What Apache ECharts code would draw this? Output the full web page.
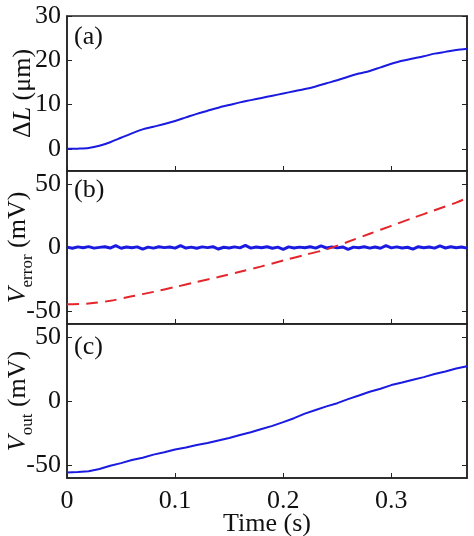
<!DOCTYPE html>
<html>
<head>
<meta charset="utf-8">
<script src="https://cdn.jsdelivr.net/npm/echarts@6/dist/echarts.min.js"></script>
<style>
  html, body { margin: 0; padding: 0; background: #fff; }
  #container { width: 474px; height: 536px; }
</style>
</head>
<body>
<div id="container"></div>
<script>
// panel (a): displacement, um
var timeA = [0, 0.01, 0.02, 0.03, 0.04, 0.05, 0.06, 0.07, 0.08, 0.09, 0.1, 0.11, 0.12, 0.13, 0.14, 0.15, 0.16, 0.17, 0.18, 0.19,
    0.2, 0.21, 0.22, 0.23, 0.24, 0.25, 0.26, 0.27, 0.28, 0.29, 0.3, 0.31, 0.32, 0.33, 0.34, 0.35, 0.36, 0.37];
var deltaL = [0, 0.05, 0.2, 0.7, 1.5, 2.5, 3.5, 4.4, 5.0, 5.6, 6.3, 7.1, 7.9, 8.6, 9.3, 9.9, 10.5, 11.0, 11.5, 12.0,
    12.5, 13.0, 13.5, 14.1, 14.8, 15.5, 16.3, 17.0, 17.6, 18.4, 19.2, 19.9, 20.4, 20.9, 21.5, 21.9, 22.3, 22.6];

// panel (b): error signal (blue, mV) and dashed reference (red, mV)
var timeErr = [0, 0.005, 0.01, 0.015, 0.02, 0.025, 0.03, 0.035, 0.04, 0.045, 0.05, 0.055, 0.06, 0.065, 0.07, 0.075,
    0.08, 0.085, 0.09, 0.095, 0.1, 0.105, 0.11, 0.115, 0.12, 0.125, 0.13, 0.135, 0.14, 0.145, 0.15, 0.155,
    0.16, 0.165, 0.17, 0.175, 0.18, 0.185, 0.19, 0.195, 0.2, 0.205, 0.21, 0.215, 0.22, 0.225, 0.23, 0.235,
    0.24, 0.245, 0.25, 0.255, 0.26, 0.265, 0.27, 0.275, 0.28, 0.285, 0.29, 0.295, 0.3, 0.305, 0.31, 0.315,
    0.32, 0.325, 0.33, 0.335, 0.34, 0.345, 0.35, 0.355, 0.36, 0.365, 0.37];
var vError = [0.3, -0.6, 0.5, -0.2, 0.7, -0.5, 0.1, 0.6, -0.4, 1.4,
    -0.6, 0.4, -0.2, 0.5, -1.3, 0.3, -0.5, 0.6, -0.1, 0.4,
    -0.5, 1.5, -0.4, 0.3, -0.6, 0.5, -0.1, 0.6, -1.2, 0.2,
    -0.4, 0.5, -0.3, 1.6, -0.5, 0.4, -0.2, 0.6, -0.6, 0.3,
    -1.4, 0.5, -0.4, 0.3, -0.2, 0.6, -0.5, 1.3, -0.4, 0.5,
    -0.3, 0.4, -1.5, 0.3, -0.2, 0.6, -0.5, 0.4, -0.6, 1.4,
    -0.3, 0.5, -0.4, 0.2, -1.3, 0.6, -0.2, 0.4, -0.5, 1.2,
    -0.4, 0.6, -0.2, 0.4, -0.5];
var timeRef = [0, 0.02, 0.04, 0.06, 0.08, 0.1, 0.12, 0.14, 0.16, 0.18, 0.2, 0.22, 0.24, 0.26, 0.28, 0.3, 0.32, 0.34, 0.36, 0.37];
var vRef = [-44.5, -44.0, -41.8, -38.3, -34.8, -31.0, -27.0, -23.2, -19.0, -14.8, -10.2, -5.8, -1.5, 4.5, 10.8, 17.0, 23.2, 29.2, 35.2, 38.8];

// panel (c): output voltage, mV
var timeOut = [0, 0.01, 0.02, 0.03, 0.04, 0.05, 0.06, 0.07, 0.08, 0.09, 0.1, 0.11, 0.12, 0.13, 0.14, 0.15, 0.16, 0.17, 0.18, 0.19,
    0.2, 0.21, 0.22, 0.23, 0.24, 0.25, 0.26, 0.27, 0.28, 0.29, 0.3, 0.31, 0.32, 0.33, 0.34, 0.35, 0.36, 0.37];
var vOut = [-55.7, -55.3, -54.8, -53.0, -50.5, -48.4, -46.0, -44.2, -41.8, -40.0, -37.8, -36.2, -34.3, -32.8, -30.8, -28.8, -26.5, -24.4, -21.8, -19.4,
    -16.5, -13.4, -9.8, -7.0, -4.2, -1.7, 1.5, 4.3, 7.2, 9.6, 12.4, 14.4, 16.6, 18.6, 21.0, 23.0, 25.3, 27.1];

// tick labels
var timeTicks = [0, 0.1, 0.2, 0.3];
var dLTicks = [0, 10, 20, 30];
var mvTicks = [-50, 0, 50];

var FONT = 'Liberation Serif';

function pairs(xs, ys) {
    var out = [];
    for (var i = 0; i < xs.length; i++) {
        out.push([xs[i], ys[i]]);
    }
    return out;
}

function makeX(idx, showLabels) {
    return {
        type: 'value', gridIndex: idx, min: 0, max: 0.37,
        axisLine: {show: true, onZero: false, lineStyle: {color: '#222', width: 1.5}},
        axisTick: {show: true, inside: true, length: 5, customValues: timeTicks, lineStyle: {color: '#222'}},
        axisLabel: {
            show: showLabels, customValues: timeTicks, margin: 10,
            fontFamily: FONT, fontSize: 26, color: '#111',
            formatter: function (v) { return v === 0 ? '0' : v.toFixed(1); }
        },
        splitLine: {show: false},
        name: showLabels ? 'Time (s)' : '',
        nameLocation: 'middle', nameGap: 33, nameMoveOverlap: false,
        nameTextStyle: {fontFamily: FONT, fontSize: 26, color: '#111'}
    };
}

function makeY(idx, min, max, ticks, name, nameRich, nameGap) {
    return [{
        type: 'value', gridIndex: idx, min: min, max: max, position: 'left',
        axisLine: {show: true, onZero: false, lineStyle: {color: '#222', width: 1.5}},
        axisTick: {show: true, inside: true, length: 5, customValues: ticks, lineStyle: {color: '#222'}},
        axisLabel: {
            show: true, customValues: ticks, margin: 6,
            fontFamily: FONT, fontSize: 26, color: '#111'
        },
        splitLine: {show: false},
        name: name, nameLocation: 'middle', nameRotate: 90, nameGap: nameGap, nameMoveOverlap: false,
        nameTextStyle: {fontFamily: FONT, fontSize: 26, color: '#111', rich: nameRich}
    }, {
        type: 'value', gridIndex: idx, min: min, max: max, position: 'right',
        axisLine: {show: true, onZero: false, lineStyle: {color: '#222', width: 1.5}},
        axisTick: {show: true, inside: true, length: 5, customValues: ticks, lineStyle: {color: '#222'}},
        axisLabel: {show: false},
        splitLine: {show: false}
    }];
}

var richBase = {
    it: {fontFamily: FONT, fontSize: 26, fontStyle: 'italic', color: '#111', lineHeight: 36},
    n: {fontFamily: FONT, fontSize: 26, color: '#111', lineHeight: 36},
    sub: {fontFamily: FONT, fontSize: 17, color: '#111', verticalAlign: 'bottom', lineHeight: 36}
};

var yA = makeY(0, -5, 30, dLTicks, '{n|Δ}{it|L}{n| (μm)}', {
    it: {fontFamily: FONT, fontSize: 26, fontStyle: 'italic', color: '#111'},
    n: {fontFamily: FONT, fontSize: 26, color: '#111'}
}, 31);
var yB = makeY(1, -60, 60, mvTicks, '{it|V}{sub|error}{n| (mV)}', richBase, 31);
var yC = makeY(2, -60, 60, mvTicks, '{it|V}{sub|out}{n| (mV)}', richBase, 31);

var myChart = echarts.init(document.getElementById('container'), null, {renderer: 'canvas'});
var gridStyle = {
    show: true, left: 67, right: 7, borderColor: '#222', borderWidth: 1.5, backgroundColor: '#fff',
    containLabel: false, outerBoundsMode: 'none'
};
var option = {
    animation: false,
    backgroundColor: '#fff',
    grid: [
        Object.assign({top: 16, height: 155}, gridStyle),
        Object.assign({top: 171, height: 153}, gridStyle),
        Object.assign({top: 324, height: 154}, gridStyle)
    ],
    xAxis: [makeX(0, false), makeX(1, false), makeX(2, true)],
    yAxis: yA.concat(yB).concat(yC),
    graphic: [
        {type: 'text', left: 74, top: 24, style: {text: '(a)', font: '26px "Liberation Serif"', fill: '#111'}},
        {type: 'text', left: 74, top: 177, style: {text: '(b)', font: '26px "Liberation Serif"', fill: '#111'}},
        {type: 'text', left: 74, top: 334, style: {text: '(c)', font: '26px "Liberation Serif"', fill: '#111'}}
    ],
    series: [
        {
            type: 'line', xAxisIndex: 0, yAxisIndex: 0, data: pairs(timeA, deltaL),
            showSymbol: false, smooth: 0.3, lineStyle: {color: '#1a1ae0', width: 2}
        },
        {
            type: 'line', xAxisIndex: 1, yAxisIndex: 2, data: pairs(timeErr, vError),
            showSymbol: false, lineStyle: {color: '#1a1ae0', width: 3}
        },
        {
            type: 'line', xAxisIndex: 1, yAxisIndex: 2, data: pairs(timeRef, vRef),
            showSymbol: false, smooth: 0.3, lineStyle: {color: '#e3262b', width: 2, type: [12, 7]}
        },
        {
            type: 'line', xAxisIndex: 2, yAxisIndex: 4, data: pairs(timeOut, vOut),
            showSymbol: false, lineStyle: {color: '#1a1ae0', width: 2}
        }
    ]
};

myChart.setOption(option);
</script>
</body>
</html>
